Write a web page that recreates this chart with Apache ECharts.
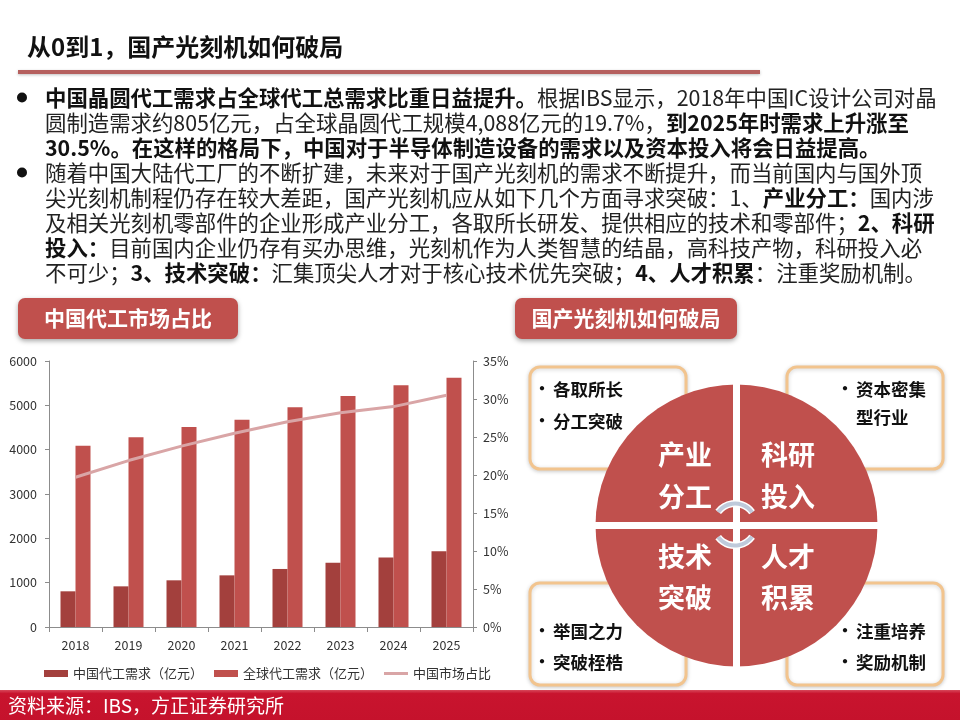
<!DOCTYPE html>
<html>
<head>
<meta charset="utf-8">
<script src="https://cdn.jsdelivr.net/npm/echarts@6/dist/echarts.min.js"></script>
<style>
html,body{margin:0;padding:0;background:#fff;}
#main{width:960px;height:720px;}
</style>
</head>
<body>
<div id="main"></div>
<script>
// ---- data ----
const years = ['2018', '2019', '2020', '2021', '2022', '2023', '2024', '2025'];
const chinaDemand = [805, 917, 1053, 1165, 1309, 1452, 1565, 1707];
const globalDemand = [4088, 4278, 4511, 4677, 4956, 5211, 5452, 5625];
const chinaShare = [0.197, 0.219, 0.238, 0.255, 0.270, 0.282, 0.290, 0.305];
const seriesNames = ['中国代工需求（亿元）', '全球代工需求（亿元）', '中国市场占比'];

const titleText = '从0到1，国产光刻机如何破局';
const chartHeader = '中国代工市场占比';
const diagramHeader = '国产光刻机如何破局';
const sourceText = '资料来源：IBS，方正证券研究所';

const bodyLines = [
  [['b', '中国晶圆代工需求占全球代工总需求比重日益提升。'], ['n', '根据IBS显示，2018年中国IC设计公司对晶']],
  [['n', '圆制造需求约805亿元，占全球晶圆代工规模4,088亿元的19.7%，'], ['b', '到2025年时需求上升涨至']],
  [['b', '30.5%。在这样的格局下，中国对于半导体制造设备的需求以及资本投入将会日益提高。']],
  [['n', '随着中国大陆代工厂的不断扩建，未来对于国产光刻机的需求不断提升，而当前国内与国外顶']],
  [['n', '尖光刻机制程仍存在较大差距，国产光刻机应从如下几个方面寻求突破：1、'], ['b', '产业分工：'], ['n', '国内涉']],
  [['n', '及相关光刻机零部件的企业形成产业分工，各取所长研发、提供相应的技术和零部件；'], ['b', '2、科研']],
  [['b', '投入：'], ['n', '目前国内企业仍存有买办思维，光刻机作为人类智慧的结晶，高科技产物，科研投入必']],
  [['n', '不可少；'], ['b', '3、技术突破：'], ['n', '汇集顶尖人才对于核心技术优先突破；'], ['b', '4、人才积累'], ['n', '：注重奖励机制。']]
];
const bulletLines = [0, 3];

const quadrantLabels = [['产业', '分工'], ['科研', '投入'], ['技术', '突破'], ['人才', '积累']];
const boxTexts = [
  [['•', '各取所长'], ['•', '分工突破']],
  [['•', '资本密集'], ['', '型行业']],
  [['•', '举国之力'], ['•', '突破桎梏']],
  [['•', '注重培养'], ['•', '奖励机制']]
];

// ---- render ----
const FONT = '"Noto Sans CJK SC", "Noto Sans", sans-serif';
const chart = echarts.init(document.getElementById('main'), null, {renderer: 'canvas'});

const graphics = [];

// title
graphics.push({
  type: 'text', x: 27, y: 47, z: 10,
  style: {text: titleText, fontSize: 24, fontWeight: 'bold', fontFamily: FONT, fill: '#111', align: 'left', verticalAlign: 'middle'}
});
graphics.push({
  type: 'rect', z: 10, shape: {x: 18, y: 70, width: 742, height: 4},
  style: {fill: '#b5605e', shadowBlur: 3, shadowColor: 'rgba(0,0,0,0.25)', shadowOffsetY: 1}
});

// body text
const BODY_FS = 21.4;
const rich = {
  b: {fontSize: BODY_FS, fontWeight: 'bold', fontFamily: FONT, fill: '#111'},
  n: {fontSize: BODY_FS, fontWeight: 'normal', fontFamily: FONT, fill: '#222'}
};
bodyLines.forEach((line, i) => {
  const y = 97.5 + i * 25;
  graphics.push({
    type: 'text', x: 45, y: y, z: 10,
    style: {
      text: line.map(s => '{' + s[0] + '|' + s[1] + '}').join(''),
      rich: rich, align: 'left', verticalAlign: 'middle', fontSize: BODY_FS, fontFamily: FONT
    }
  });
});
bulletLines.forEach(i => {
  graphics.push({
    type: 'circle', z: 10, shape: {cx: 22, cy: 97.5 + i * 25, r: 5},
    style: {fill: '#111'}
  });
});

// section headers
function header(x, y, w, h, text) {
  graphics.push({
    type: 'rect', z: 10, shape: {x: x, y: y, width: w, height: h, r: 7},
    style: {fill: '#c0504d', shadowBlur: 5, shadowColor: 'rgba(0,0,0,0.35)', shadowOffsetY: 2}
  });
  graphics.push({
    type: 'text', z: 11, x: x + w / 2, y: y + h / 2,
    style: {text: text, fontSize: 21, fontWeight: 'bold', fontFamily: FONT, fill: '#fff', align: 'center', verticalAlign: 'middle'}
  });
}
header(18, 298, 220, 41, chartHeader);
header(515, 298, 222, 41, diagramHeader);

// diagram boxes
const boxRects = [[530, 367], [787, 367], [530, 583], [787, 583]];
const boxTextX = [542, 845, 542, 845];
const boxTextY = [[389, 421], [389, 417], [631, 662], [631, 662]];
boxRects.forEach((b, i) => {
  graphics.push({
    type: 'rect', z: 5, shape: {x: b[0], y: b[1], width: 156, height: 102, r: 10},
    style: {fill: '#fff', stroke: '#f2c48e', lineWidth: 3, shadowBlur: 4, shadowColor: 'rgba(0,0,0,0.18)', shadowOffsetY: 1}
  });
  boxTexts[i].forEach((t, j) => {
    graphics.push({
      type: 'text', z: 6, x: boxTextX[i], y: boxTextY[i][j],
      style: {text: t[0], fontSize: 17, fontWeight: 'bold', fontFamily: FONT, fill: '#111', align: 'center', verticalAlign: 'middle'}
    });
    graphics.push({
      type: 'text', z: 6, x: boxTextX[i] + 11, y: boxTextY[i][j],
      style: {text: t[1], fontSize: 17.5, fontWeight: 'bold', fontFamily: FONT, fill: '#111', align: 'left', verticalAlign: 'middle'}
    });
  });
});

// circle
const cx = 736.5, cy = 525.5, R = 141;
graphics.push({type: 'circle', z: 7, shape: {cx: cx, cy: cy, r: R}, style: {fill: '#c0504d'}});
graphics.push({type: 'rect', z: 8, shape: {x: cx - 3.5, y: cy - R - 2, width: 7, height: 2 * R + 4}, style: {fill: '#fff'}});
graphics.push({type: 'rect', z: 8, shape: {x: cx - R - 2, y: cy - 3.5, width: 2 * R + 4, height: 7}, style: {fill: '#fff'}});
const qx = [685, 788, 685, 788];
const qy = [[455, 497], [455, 497], [557, 598], [557, 598]];
quadrantLabels.forEach((q, i) => {
  q.forEach((t, j) => {
    graphics.push({
      type: 'text', z: 9, x: qx[i], y: qy[i][j],
      style: {text: t, fontSize: 27, fontWeight: 'bold', fontFamily: FONT, fill: '#fff', align: 'center', verticalAlign: 'middle'}
    });
  });
});
// cycle arrows
const ax = 735, ay = 524.5, ar = 21;
[[-2.5, -0.62], [0.62, 2.5]].forEach(a => {
  graphics.push({type: 'arc', z: 9, shape: {cx: ax, cy: ay, r: ar, startAngle: a[0], endAngle: a[1], clockwise: true},
    style: {stroke: '#ffffff', lineWidth: 7, fill: null}});
  graphics.push({type: 'arc', z: 9, shape: {cx: ax, cy: ay, r: ar, startAngle: a[0], endAngle: a[1], clockwise: true},
    style: {stroke: '#bfcadb', lineWidth: 4, fill: null}});
});

// footer
graphics.push({type: 'rect', z: 10, shape: {x: 0, y: 690, width: 960, height: 30},
  style: {fill: new echarts.graphic.LinearGradient(0, 0, 0, 1, [{offset: 0, color: '#d8485a'}, {offset: 0.12, color: '#c8142e'}, {offset: 1, color: '#c5122c'}])}});
graphics.push({type: 'text', z: 11, x: 8, y: 706,
  style: {text: sourceText, fontSize: 19, fontFamily: FONT, fill: '#fff', align: 'left', verticalAlign: 'middle'}});

const axisLabelStyle = {color: '#333', fontSize: 12.5, fontFamily: FONT};

const option = {
  animation: false,
  backgroundColor: '#fff',
  grid: {left: 49, right: 487, top: 361, bottom: 93, containLabel: false, outerBoundsMode: 'none'},
  legend: {
    left: 39, top: 662, itemWidth: 24, itemHeight: 7, itemGap: 11,
    textStyle: {color: '#333', fontSize: 13, fontFamily: FONT},
    data: [
      {name: seriesNames[0], icon: 'rect'},
      {name: seriesNames[1], icon: 'rect'},
      {name: seriesNames[2], icon: 'path://M0,0L24,0L24,3L0,3Z'}
    ]
  },
  xAxis: {
    type: 'category', data: years, boundaryGap: true,
    axisLine: {lineStyle: {color: '#8c8c8c', width: 1}},
    axisTick: {show: true, length: 5, alignWithLabel: false, lineStyle: {color: '#8c8c8c'}},
    axisLabel: Object.assign({margin: 12}, axisLabelStyle),
    splitLine: {show: false}
  },
  yAxis: [
    {
      type: 'value', min: 0, max: 6000, interval: 1000, position: 'left',
      axisLine: {show: true, lineStyle: {color: '#8c8c8c'}},
      axisTick: {show: true, length: 4, lineStyle: {color: '#8c8c8c'}},
      axisLabel: Object.assign({margin: 12, formatter: v => String(v)}, axisLabelStyle),
      splitLine: {show: false}
    },
    {
      type: 'value', min: 0, max: 0.35, interval: 0.05, position: 'right',
      axisLine: {show: true, lineStyle: {color: '#8c8c8c'}},
      axisTick: {show: true, length: 4, lineStyle: {color: '#8c8c8c'}},
      axisLabel: Object.assign({margin: 10, formatter: v => Math.round(v * 100) + '%'}, axisLabelStyle),
      splitLine: {show: false}
    }
  ],
  series: [
    {name: seriesNames[0], type: 'bar', data: chinaDemand, barWidth: 15, barGap: '0%',
      itemStyle: {color: '#a3403d'}},
    {name: seriesNames[1], type: 'bar', data: globalDemand, barWidth: 15, barGap: '0%',
      itemStyle: {color: '#c0504d'}},
    {name: seriesNames[2], type: 'line', yAxisIndex: 1, data: chinaShare, symbol: 'none', showSymbol: false,
      lineStyle: {color: '#d9a5a6', width: 3}, itemStyle: {color: '#d9a5a6'}}
  ],
  graphic: graphics
};
chart.setOption(option);
</script>
</body>
</html>
